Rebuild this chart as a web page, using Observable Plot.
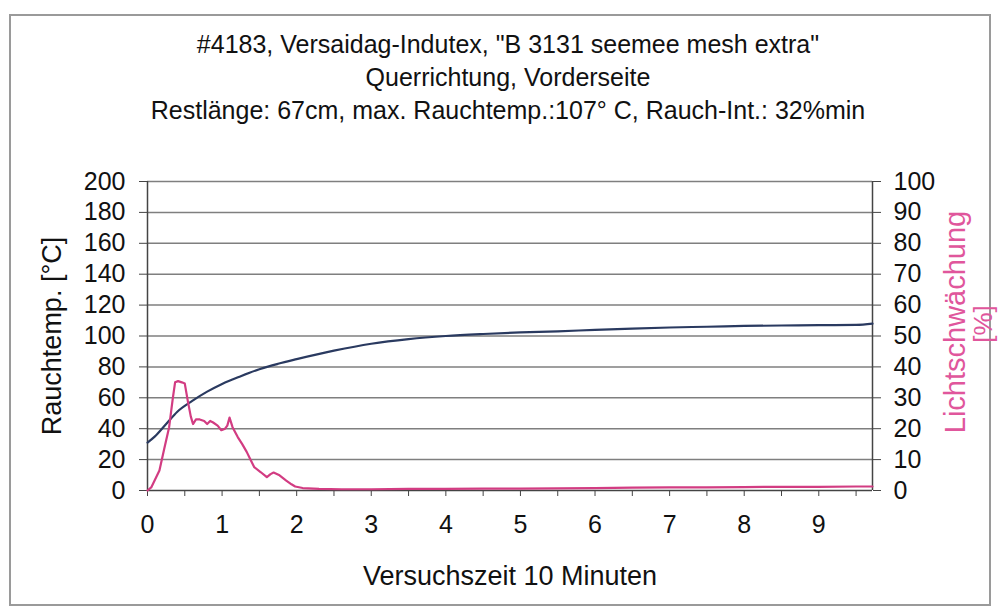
<!DOCTYPE html>
<html>
<head>
<meta charset="utf-8">
<script src="https://cdn.jsdelivr.net/npm/d3@7"></script>
<script src="https://cdn.jsdelivr.net/npm/@observablehq/plot@0.6"></script>
<style>
  html, body { margin: 0; padding: 0; background: #fff; }
  #wrap { position: relative; width: 998px; height: 613px; overflow: hidden; font-family: "Liberation Sans", Arial, sans-serif; }
  #frame { position: absolute; left: 9px; top: 14px; width: 978px; height: 588px; border: 2px solid #9a9a9a; pointer-events: none; }
  #title { position: absolute; left: 0; top: 28px; width: 1016px; text-align: center; font-size: 25px; line-height: 33px; color: #111; }
  #chart { position: absolute; left: 0; top: 140px; }
</style>
</head>
<body>
<div id="wrap">
  <div id="frame"></div>
  <div id="title">
    <div>#4183, Versaidag-Indutex, "B 3131 seemee mesh extra"</div>
    <div>Querrichtung, Vorderseite</div>
    <div>Restlänge: 67cm, max. Rauchtemp.:107° C, Rauch-Int.: 32%min</div>
  </div>
  <div id="chart"></div>
</div>
<script>
// Rauchtemperatur [°C] vs. time
const tempTime = [0, 0.1, 0.25, 0.4, 0.6, 0.8, 1.0, 1.25, 1.5, 1.75, 2.0, 2.5, 3.0, 3.5, 4.0, 4.5, 5.0, 5.5, 6.0, 6.5, 7.0, 7.5, 8.0, 8.5, 9.0, 9.5, 9.72];
const tempValues = [31, 35, 43, 51, 58, 64, 69, 74, 78.5, 82, 85, 90.5, 95, 98, 100, 101.3, 102.3, 103, 104, 104.8, 105.5, 106, 106.5, 106.8, 107, 107.2, 108];

// Lichtschwächung [%] vs. time
const lightTime = [0, 0.05, 0.10, 0.16, 0.22, 0.29, 0.34, 0.37, 0.41, 0.46, 0.50, 0.54, 0.58, 0.61, 0.65, 0.70, 0.76, 0.80, 0.84, 0.88, 0.94, 0.99, 1.04, 1.07, 1.10, 1.14, 1.21, 1.27, 1.33, 1.38, 1.43, 1.52, 1.60, 1.65, 1.69, 1.77, 1.86, 1.93, 1.98, 2.08, 2.3, 2.6, 3.0, 3.5, 4.0, 4.5, 5.0, 5.5, 6.0, 6.5, 7.0, 7.5, 8.0, 8.5, 9.0, 9.5, 9.72];
const lightValues = [0, 1, 3.5, 6.5, 13, 20.5, 30, 35, 35.4, 35, 34.6, 29, 24, 21.5, 23, 23, 22.5, 21.5, 22.5, 22, 21, 19.5, 20, 21, 23.6, 20.5, 17.3, 15, 12.5, 10, 7.6, 5.9, 4.3, 5.3, 5.8, 4.9, 3.2, 2, 1.3, 0.8, 0.5, 0.4, 0.4, 0.5, 0.5, 0.6, 0.6, 0.7, 0.8, 0.9, 1.0, 1.0, 1.1, 1.2, 1.2, 1.3, 1.3];

// tick labels
const leftTicks = [0, 20, 40, 60, 80, 100, 120, 140, 160, 180, 200];
const rightTickLabels = [0, 10, 20, 30, 40, 50, 60, 70, 80, 90, 100];
const xTicks = [0, 0.5, 1, 1.5, 2, 2.5, 3, 3.5, 4, 4.5, 5, 5.5, 6, 6.5, 7, 7.5, 8, 8.5, 9, 9.5];
const xMax = 9.72;

const titleX = "Versuchszeit 10 Minuten";
const titleYLeft = "Rauchtemp. [°C]";
const titleYRight1 = "Lichtschwächung";
const titleYRight2 = "[%]";

const temp = tempTime.map((t, i) => ({t, v: tempValues[i]}));
const light = lightTime.map((t, i) => ({t, v: lightValues[i]}));

const blue = "#2a3a60";
const pink = "#d23c82";
const pinkLabel = "#e0569c";
const font = "'Liberation Sans', Arial, sans-serif";

const chart = Plot.plot({
  width: 998,
  height: 473,
  marginTop: 41,
  marginBottom: 123,
  marginLeft: 147,
  marginRight: 126,
  style: {fontFamily: font, color: "#111", background: "transparent", overflow: "visible"},
  x: {domain: [0, xMax], axis: null},
  y: {domain: [0, 200], axis: null},
  marks: [
    Plot.gridY(leftTicks.slice(1), {stroke: "#7f7f7f", strokeOpacity: 1, strokeWidth: 1.5}),
    Plot.axisY(leftTicks, {anchor: "left", tickSize: 8, tickPadding: 14, fontSize: 25, label: null, stroke: "#444"}),
    Plot.axisY(leftTicks, {anchor: "right", tickSize: 8, tickPadding: 13, fontSize: 25, label: null, stroke: "#444",
      tickFormat: (d, i) => rightTickLabels[i]}),
    Plot.axisX(xTicks, {anchor: "bottom", tickSize: 6, tickPadding: 19, fontSize: 25, label: null, stroke: "#444",
      tickFormat: d => Number.isInteger(d) ? d : ""}),
    Plot.ruleX([0, xMax], {stroke: "#444", strokeWidth: 1.5}),
    Plot.ruleY([0], {stroke: "#444", strokeWidth: 1.5}),
    Plot.line(temp, {x: "t", y: "v", stroke: blue, strokeWidth: 2.2, curve: "monotone-x"}),
    Plot.line(light, {x: "t", y: d => d.v * 2, stroke: pink, strokeWidth: 2.2}),
    Plot.text([titleX], {frameAnchor: "bottom", dy: 86, fontSize: 27, fill: "#111", lineAnchor: "middle", textAnchor: "middle"}),
    Plot.text([titleYLeft], {frameAnchor: "left", dx: -95, rotate: -90, fontSize: 27, fill: "#111", textAnchor: "middle", lineAnchor: "middle"}),
    Plot.text([titleYRight1], {frameAnchor: "right", dx: 83, dy: -14, rotate: -90, fontSize: 29, fill: pinkLabel, textAnchor: "middle", lineAnchor: "middle"}),
    Plot.text([titleYRight2], {frameAnchor: "right", dx: 111, dy: -12, rotate: -90, fontSize: 26, fill: pinkLabel, textAnchor: "middle", lineAnchor: "middle"})
  ]
});
document.getElementById("chart").appendChild(chart);
</script>
</body>
</html>
